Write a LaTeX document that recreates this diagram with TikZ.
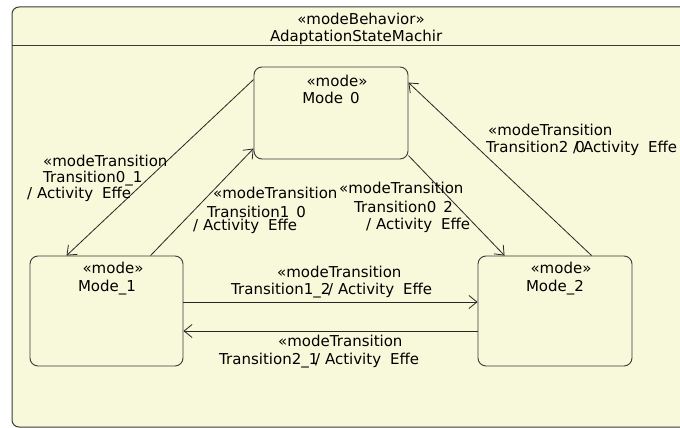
\documentclass[tikz,border=0pt]{standalone}
\usepackage{fontspec}
\setmainfont{DejaVu Sans}
\usetikzlibrary{arrows.meta,calc}
\definecolor{bgy}{HTML}{F8F8DA}
\definecolor{edge}{HTML}{3A3A3A}
\tikzset{
  modebox/.style={draw=edge, line width=0.9pt, fill=bgy, rounded corners=8pt, minimum width=#1, inner sep=0pt},
  lbl/.style={anchor=base west, inner sep=0pt, font=\fontsize{15}{17}\selectfont},
  clbl/.style={anchor=base, inner sep=0pt, font=\fontsize{15}{17}\selectfont},
  trans/.style={draw=black!85, line width=0.8pt, -{Straight Barb[length=8pt,width=13pt,line width=0.8pt]}}
}
\newcommand{\gapu}{\hspace{9pt}}
\begin{document}
\begin{tikzpicture}[x=1pt,y=-1pt]
\clip (0,0) rectangle (680,428);
\fill[white] (0,0) rectangle (680,428);
% outer frame
\draw[draw=edge, line width=1pt, fill=bgy, rounded corners=7pt] (712,427) -- (12,427) -- (12,7) -- (712,7);
\draw[draw=edge, line width=0.9pt] (12,45) -- (712,45);
\node[clbl] (hdr1) at (361,25) {«modeBehavior»};
\node[lbl] (hdr2) at (270,42) {AdaptationStateMachir};
% modes
\node[modebox=154pt, minimum height=92pt] (m0) at (331,113) {};
\node[modebox=153pt, minimum height=110pt] (m1) at (106.5,311) {};
\node[modebox=154pt, minimum height=110pt] (m2) at (555,311) {};
\node[clbl] (m0s) at (337,86) {«mode»};
\node[clbl] (m0n) at (331,103) {Mode\hspace{7pt}0};
\node[clbl] (m1s) at (113,273) {«mode»};
\node[clbl] (m1n) at (107,291) {Mode\_1};
\node[clbl] (m2s) at (561,273) {«mode»};
\node[clbl] (m2n) at (555,291) {Mode\_2};
% transitions
\draw[trans] ($(m0.north west)+(0,13)$) -- ($(m1.north west)+(37,0)$);
\draw[trans] ($(m1.north west)+(121,0)$) -- ($(m0.north west)+(0,82)$);
\draw[trans] ($(m0.north east)+(0,89)$) -- ($(m2.north west)+(27,0)$);
\draw[trans] ($(m2.north west)+(114,0)$) -- ($(m0.north east)+(0,16)$);
\draw[trans] ($(m1.east)+(0,-9)$) -- ($(m2.west)+(0,-9)$);
\draw[trans] ($(m2.west)+(0,20)$) -- ($(m1.east)+(0,20)$);
% labels T0_1
\node[lbl] (a1) at (43,166) {«modeTransition};
\node[lbl] (a2) at (43,182) {Transition0\_1};
\node[lbl] (a3) at (27,198) {/ Activity\gapu Effe};
% T1_0
\node[lbl] (b1) at (213,198) {«modeTransition};
\node[lbl] (b2) at (207,217) {Transition1\hspace{7pt}0};
\node[lbl] (b3) at (193,230) {/ Activity\gapu Effe};
% T0_2
\node[lbl] (c1) at (339,193) {«modeTransition};
\node[lbl] (c2) at (354,212) {Transition0\hspace{7pt}2};
\node[lbl] (c3) at (366,229) {/ Activity\gapu Effe};
% T2_0
\node[lbl] (d1) at (488,135) {«modeTransition};
\node[lbl] (d2) at (486,152) {Transition2\hspace{7pt}0};
\node[lbl] (d3) at (573,152) {/ Activity\gapu Effe};
% T1_2
\node[lbl] (e1) at (277,277) {«modeTransition};
\node[lbl] (e2) at (231,294) {Transition1\_2};
\node[lbl] (e3) at (328,294) {/ Activity\gapu Effe};
% T2_1
\node[lbl] (f1) at (278,346) {«modeTransition};
\node[lbl] (f2) at (219,364) {Transition2\_1};
\node[lbl] (f3) at (315,364) {/ Activity\gapu Effe};
\end{tikzpicture}
\end{document}
